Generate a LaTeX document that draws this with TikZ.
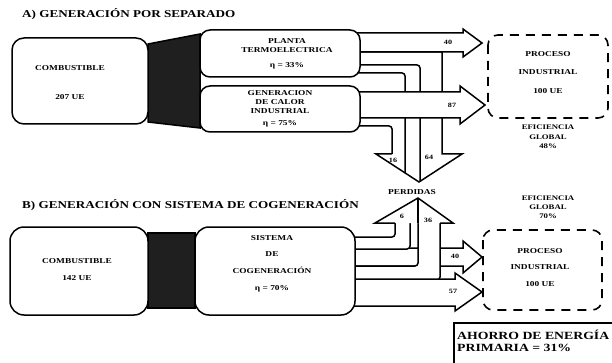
\documentclass[tikz,border=0pt]{standalone}
\usepackage{fontspec}
\setmainfont{Liberation Serif}
\newfontfamily\escan[FakeStretch=1.25]{Liberation Serif}

\tikzset{
  caja/.style={draw,line width=1.5pt,fill=white,rounded corners=12pt},
  flujo/.style={draw,line width=1.5pt,fill=white,rounded corners=3pt},
  linea/.style={line width=1.5pt,rounded corners=3pt},
  nucleo/.style={draw,line width=1.5pt,fill=black!88},
  proceso/.style={draw,line width=1.6pt,dash pattern=on 9pt off 7pt,rounded corners=10pt},
  rotulo/.style={font=\escan\bfseries\fontsize{7.5}{9}\selectfont,align=center,inner sep=0pt},
  cifra/.style={font=\escan\bfseries\fontsize{6.5}{7}\selectfont,inner sep=0pt},
  titulo/.style={font=\escan\bfseries\fontsize{10.5}{12}\selectfont,anchor=west,inner sep=0pt},
}

\begin{document}
\begin{tikzpicture}[x=1pt,y=-1pt]
  \useasboundingbox (0,0) rectangle (612,363);

  % A) generacion por separado
  \node[titulo] (tituloA) at (22,14) {A) GENERACIÓN POR SEPARADO};

  % perdidas hacia abajo
  \draw[linea] (350,65) -- (420,65) -- (420,181);
  \draw[linea] (350,73) -- (405,73) -- (405,173);
  \draw[linea] (350,126) -- (392,126) -- (392,154);
  \draw[line width=1.5pt,line join=miter] (350,52) -- (442,52) -- (442,154) -- (462,154)
    -- (419,182) -- (376,154) -- (392,154);
  \draw[flujo,rounded corners=0pt] (350,33) -- (463,33) -- (463,29) -- (482,43) -- (463,57)
    -- (463,52) -- (350,52) -- cycle;
  \draw[flujo,rounded corners=0pt] (350,92) -- (460,92) -- (460,86) -- (485,105) -- (460,124)
    -- (460,118) -- (350,118) -- cycle;

  \filldraw[nucleo] (148,44) -- (200,34) -- (200,128) -- (148,122) -- cycle;
  \draw[caja] (12,38) rectangle (148,124);
  \draw[caja,rounded corners=10pt] (200,30) rectangle (360,77);
  \draw[caja,rounded corners=10pt] (200,86) rectangle (360,132);

  \node[rotulo] (combA) at (70,68) {COMBUSTIBLE};
  \node[rotulo] (ueA) at (70,97) {207 UE};
  \node[rotulo] (planta) at (287,46) {PLANTA\\TERMOELECTRICA};
  \node[rotulo] (etaP) at (287,66) {η = 33\%};
  \node[rotulo] (calor) at (280,102) {GENERACION\\DE CALOR\\INDUSTRIAL};
  \node[rotulo] (etaC) at (280,124) {η = 75\%};

  \node[cifra] (f40A) at (448,42) {40};
  \node[cifra] (f87A) at (452,105) {87};
  \node[cifra] (f16A) at (393,160) {16};
  \node[cifra] (f64A) at (429,157) {64};

  \draw[proceso] (488,35) rectangle (608,118);
  \node[rotulo] (procA) at (548,54) {PROCESO};
  \node[rotulo] (indA) at (548,72) {INDUSTRIAL};
  \node[rotulo] (cienA) at (548,91) {100 UE};
  \node[rotulo,font=\escan\bfseries\fontsize{7}{9.5}\selectfont] (efA) at (548,137) {EFICIENCIA\\GLOBAL\\48\%};

  \node[rotulo] (perdidas) at (412,192) {PERDIDAS};

  % B) cogeneracion
  \node[titulo] (tituloB) at (22,205) {B) GENERACIÓN CON SISTEMA DE COGENERACIÓN};

  \draw[flujo,rounded corners=0pt] (350,248) -- (463,248) -- (463,241) -- (482,257) -- (463,273)
    -- (463,266) -- (350,266) -- cycle;
  \draw[flujo] (350,266) -- (418,266) -- (418,214) -- (440,214) -- (440,280) -- (350,280) -- cycle;
  \draw[flujo] (350,237) -- (395,237) -- (395,214) -- (410,214) -- (410,249) -- (350,249) -- cycle;
  \fill[white] (375,223) -- (418,198) -- (453,223) -- cycle;
  \draw[line width=1.5pt,line join=miter] (395,223) -- (375,223) -- (418,198) -- (453,223) -- (440,223);
  \draw[line width=1.5pt] (418,223) -- (418,199);
  \draw[flujo,rounded corners=0pt] (350,279) -- (455,279) -- (455,273) -- (482,292) -- (455,311)
    -- (455,306) -- (350,306) -- cycle;

  \filldraw[nucleo] (148,233) rectangle (195,308);
  \draw[caja,rounded corners=14pt] (10,227) rectangle (148,315);
  \draw[caja,rounded corners=14pt] (195,227) rectangle (355,315);

  \node[rotulo] (combB) at (77,261) {COMBUSTIBLE};
  \node[rotulo] (ueB) at (77,278) {142 UE};
  \node[rotulo] (sistema) at (272,238) {SISTEMA};
  \node[rotulo] (de) at (272,254) {DE};
  \node[rotulo] (cogen) at (272,270) {COGENERACIÓN};
  \node[rotulo] (etaS) at (272,289) {η = 70\%};

  \node[cifra] (f6B) at (402,216) {6};
  \node[cifra] (f36B) at (428,220) {36};
  \node[cifra] (f40B) at (455,256) {40};
  \node[cifra] (f57B) at (453,291) {57};

  \draw[proceso] (483,230) rectangle (602,310);
  \node[rotulo] (procB) at (540,251) {PROCESO};
  \node[rotulo] (indB) at (540,267) {INDUSTRIAL};
  \node[rotulo] (cienB) at (540,284) {100 UE};
  \node[rotulo,font=\escan\bfseries\fontsize{7}{9}\selectfont] (efB) at (548,207) {EFICIENCIA\\GLOBAL\\70\%};

  % ahorro
  \draw[line width=2.2pt] (454,363) -- (454,323) -- (612,323);
  \node[titulo,font=\escan\bfseries\fontsize{11}{12}\selectfont] (ahorro) at (457,335) {AHORRO DE ENERGÍA};
  \node[titulo,font=\escan\bfseries\fontsize{11}{12}\selectfont] (primaria) at (457,348) {PRIMARIA = 31\%};
\end{tikzpicture}
\end{document}
